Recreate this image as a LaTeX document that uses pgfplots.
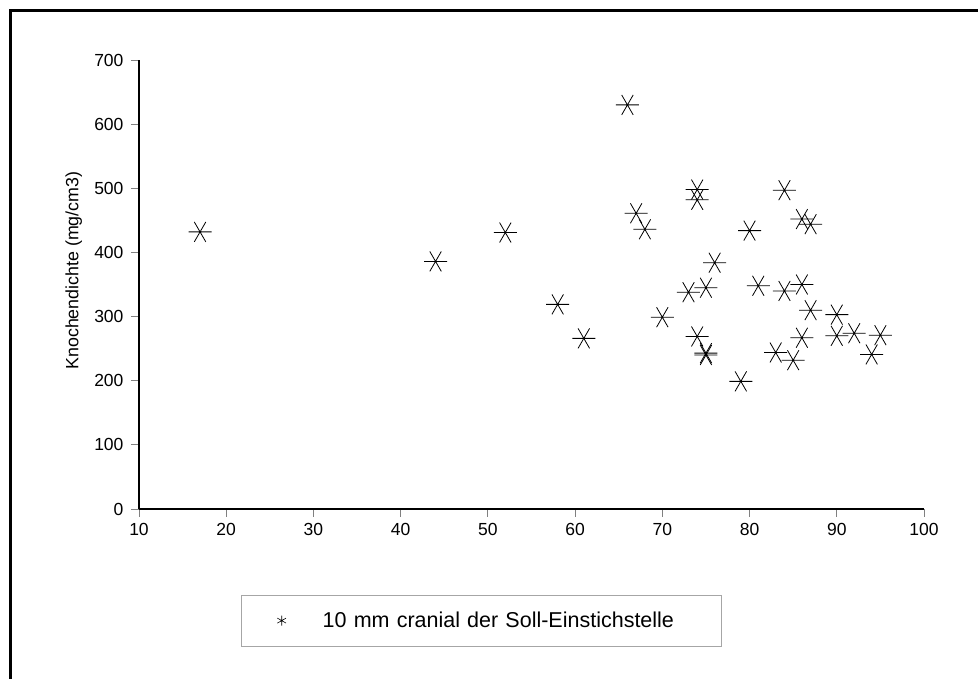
\documentclass[border=0pt]{standalone}
\usepackage{pgfplots}
\pgfplotsset{compat=1.18}
\usepackage{pgfplotstable}
\usepackage{fontspec}
\setmainfont{Liberation Sans}
\pgfplotstableread{
x y
17 432
44 386
52 431
58 319
61 266
66 630
67 461
68 436
70 299
73 338
74 498
74 482
74 269
75 345
75 240
75 243
76 384
79 199
80 434
81 348
83 244
84 497
84 340
85 232
86 452
87 444
86 350
87 310
86 267
90 303
90 270
92 274
94 241
95 271
}\datatable
\begin{document}
\begin{tikzpicture}[x=1pt,y=1pt]
\useasboundingbox (0,0) rectangle (978,679);
\draw[line width=3pt] (10,-5) -- (10,668) -- (990,668);
\begin{axis}[
  at={(139pt,170pt)}, anchor=south west,
  scale only axis, width=785pt, height=449pt,
  xmin=10, xmax=100, ymin=0, ymax=700,
  axis x line*=bottom, axis y line*=left,
  axis line style={line width=2.2pt, -},
  xtick={10,20,...,100}, ytick={0,100,...,700},
  tick align=outside, major tick length=8pt,
  tick style={gray, line width=0.9pt},
  /pgf/number format/assume math mode=true,
  ticklabel style={font=\fontsize{17.5}{20}\selectfont},
  xticklabel style={yshift=-3pt},
  yticklabel style={xshift=-4pt},
  ylabel={Knochendichte (mg/cm3)},
  ylabel style={font=\fontsize{17.8}{20}\selectfont, at={(axis description cs:-0.083,0.531)}, anchor=center, rotate=0},
  legend style={at={(axis description cs:0.4366,-0.2486)}, anchor=center,
    draw=gray!70, line width=0.8pt, inner xsep=0pt, inner ysep=17pt,
    nodes={inner sep=0pt, font=\fontsize{21.5}{24}\selectfont},
    /tikz/every even column/.style={column sep=0pt}},
  legend image code/.code={
    \path[draw=none] (0pt,0pt) -- (81pt,0pt);
    \path[draw=none] plot[black, line width=0.6pt, mark=asterisk, mark size=5pt, mark options={draw=black, line width=0.6pt}] coordinates {(40pt,0pt)};
  },
  legend cell align=left,
]
\addplot[only marks, mark=asterisk, mark size=11.5pt,
  mark options={rotate=90, line width=0.8pt, black}]
  table[x=x,y=y] {\datatable};
\addlegendentry[text width=399pt, align=left]{10 mm cranial der Soll-Einstichstelle}
\end{axis}
\end{tikzpicture}
\end{document}
